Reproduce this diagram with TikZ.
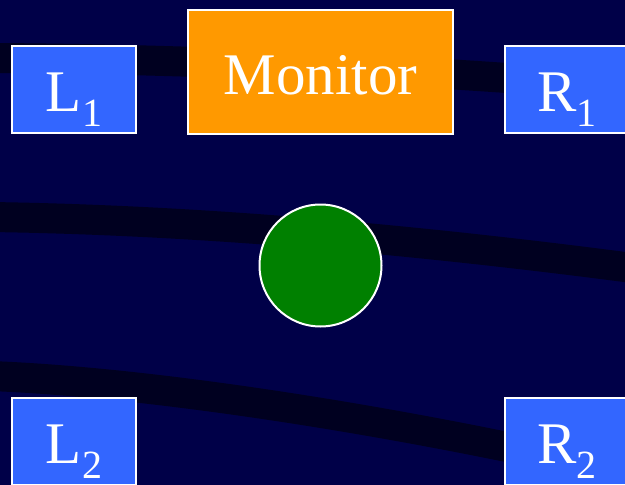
\documentclass[tikz,border=0pt]{standalone}
\usepackage{fontspec}
\setmainfont{Liberation Serif}
\usepackage{xcolor}
\definecolor{navy}{RGB}{0, 0, 72}
\definecolor{band}{RGB}{0, 0, 32}
\definecolor{sidebox}{RGB}{51, 102, 255}
\definecolor{mon}{RGB}{255, 153, 0}
\definecolor{ballgreen}{RGB}{0, 128, 0}
\newcommand{\idx}[1]{\raisebox{-15pt}{\fontsize{40pt}{40pt}\selectfont #1}}

\begin{document}
\begin{tikzpicture}[x=1pt, y=-1pt,
    bigtext/.style={text=white, inner sep=0pt, font=\fontsize{59pt}{59pt}\selectfont},
    side/.style={bigtext, draw=white, line width=2pt, fill=sidebox,
        minimum width=124pt, text height=65pt, text depth=22pt},
    stripe/.style={band, line width=30pt}]
        % Define the precise value for the column and row positions
        \pgfmathsetmacro{\lx}{74}
        \pgfmathsetmacro{\rx}{567}

        % Background with its dark curved stripes
        \useasboundingbox (0,0) rectangle (625,485);
        \clip (0,0) rectangle (625,485);
        \fill[navy] (0,0) rectangle (625,485);
        \draw[stripe] (-10,58) .. controls (200,59) and (420,70) .. (640,88);
        \draw[stripe] (-10,217) .. controls (200,220) and (420,240) .. (640,269);
        \draw[stripe] (-10,376) .. controls (150,382) and (400,420) .. (640,476);

        % Monitor and the four side boxes
        \node[bigtext, draw=white, line width=2pt, fill=mon, minimum width=265pt,
            text height=84pt, text depth=40pt] (monitor) at (320.5,72) {Monitor};
        \node[side] (l1) at (\lx,89.5) {L\idx{1}};
        \node[side] (r1) at (\rx,89.5) {R\idx{1}};
        \node[side] (l2) at (\lx,441.5) {L\idx{2}};
        \node[side] (r2) at (\rx,441.5) {R\idx{2}};

        % Green ball in the middle
        \node[circle, draw=white, line width=2pt, fill=ballgreen, minimum size=122pt,
            inner sep=0pt] (ball) at (320.5,265.5) {};
    \end{tikzpicture}
\end{document}
